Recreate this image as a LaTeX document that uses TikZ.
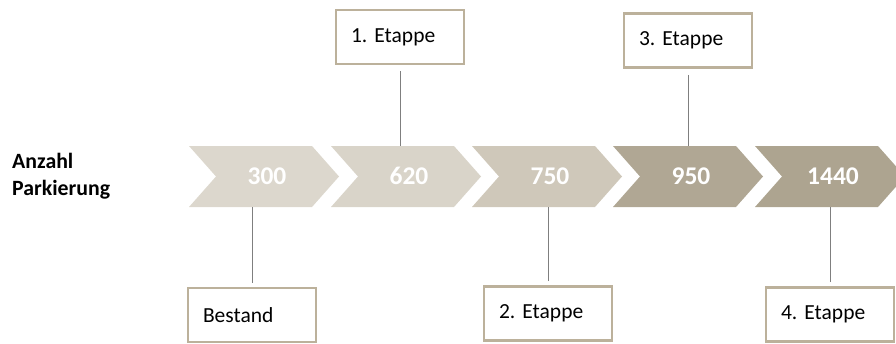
\documentclass[tikz,border=0pt]{standalone}
\usepackage{fontspec}
\setmainfont{Carlito}
\frenchspacing
\begin{document}
\begin{tikzpicture}[x=1pt,y=-1pt,
  chev/.style={minimum width=150pt, minimum height=61pt, inner sep=0pt,
    text height=16.3pt, text depth=0pt,
    text=white, font=\fontsize{25.5}{30}\selectfont\bfseries,
    execute at begin node={\hspace*{6pt}},
    path picture={\fill[#1]
      (path picture bounding box.north west)
      -- ([xshift=-27pt]path picture bounding box.north east)
      -- (path picture bounding box.east)
      -- ([xshift=-27pt]path picture bounding box.south east)
      -- (path picture bounding box.south west)
      -- ([xshift=27pt]path picture bounding box.west) -- cycle;}},
  stage/.style={draw=boxline, line width=2.8pt, fill=white,
    minimum height=54pt, text width=98pt, inner xsep=15pt,
    align=left, font=\fontsize{21.5}{25}\selectfont},
  conn/.style={draw=connline, line width=1pt}
]
\definecolor{chA}{HTML}{DCD7CD}
\definecolor{chB}{HTML}{D9D4C9}
\definecolor{chC}{HTML}{CFC8BA}
\definecolor{chD}{HTML}{B0A794}
\definecolor{chE}{HTML}{ADA490}
\definecolor{boxline}{HTML}{BCB19B}
\definecolor{connline}{HTML}{7F7F7F}

\useasboundingbox (0,0) rectangle (896,343);
\clip (0,0) rectangle (896,343);

% row label
\node[anchor=west, align=left, font=\fontsize{21.8}{27}\selectfont\bfseries,
      inner sep=0pt] (lbl) at (12,176.5) {Anzahl\\Parkierung};

% chevrons with parking counts
\node[chev=chA] (n300)  at (264,176.5) {300};
\node[chev=chB] (n620)  at (406,176.5) {620};
\node[chev=chC] (n750)  at (547,176.5) {750};
\node[chev=chD] (n950)  at (688,176.5) {950};
\node[chev=chE] (n1440) at (830,176.5) {1440};

% stage boxes
\node[stage] (s1) at (400,37)    {1. Etappe};
\node[stage] (s3) at (688,40.5)  {3. Etappe};
\node[stage] (s0) at (252,315)   {Bestand};
\node[stage] (s2) at (548,313.5) {2. Etappe};
\node[stage] (s4) at (830,314.5) {4. Etappe};

% connectors from the boxes to the chevrons
\draw[conn] ([yshift=-6pt]s1.south) -- (s1.south |- n620.north);
\draw[conn] ([yshift=-6pt]s3.south) -- (s3.south |- n950.north);
\draw[conn] ([yshift=4pt]s0.north) -- (s0.north |- n300.south);
\draw[conn] ([yshift=4pt]s2.north) -- (s2.north |- n750.south);
\draw[conn] ([yshift=4pt]s4.north) -- (s4.north |- n1440.south);
\end{tikzpicture}
\end{document}
